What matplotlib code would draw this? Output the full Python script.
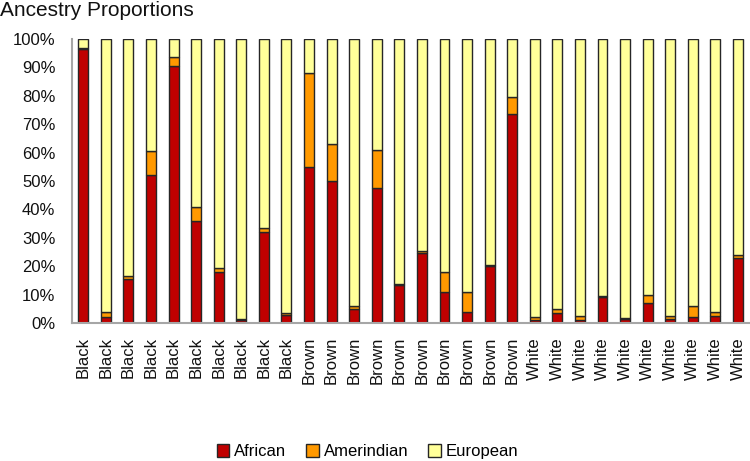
import matplotlib
matplotlib.use('Agg')
import matplotlib.pyplot as plt
import numpy as np

# Categorías y proporciones (en %)
grupos = ['Black'] * 10 + ['Brown'] * 10 + ['White'] * 10
african = [96.5, 2, 15.5, 52, 90.5, 36, 18, 1, 32, 3,
           55, 50, 5, 47.5, 13.5, 24.5, 11, 4, 20, 73.5,
           1, 3.5, 1, 9, 1.5, 7, 1.5, 2, 2.5, 23]
amerindian = [0.5, 2, 1, 8.5, 3, 5, 1.5, 0.3, 1.5, 0.5,
              33, 13, 1, 13.5, 0.3, 1, 7, 7, 0.3, 6,
              1, 1.5, 1.5, 0.5, 0.3, 3, 1, 4, 1.5, 1]
european = [100 - a - b for a, b in zip(african, amerindian)]

colores = ['#C00000', '#FF9900', '#FFFF99']

fig = plt.figure(figsize=(7.5, 4.61), dpi=100)
ax = fig.add_axes([0.096, 0.2993, 0.903, 0.6161])

x = np.arange(len(grupos))
ancho = 0.44
borde = dict(edgecolor='#262626', linewidth=1.0)
ax.bar(x, african, ancho, color=colores[0], label='African', **borde)
ax.bar(x, amerindian, ancho, bottom=african, color=colores[1], label='Amerindian', **borde)
base = [a + b for a, b in zip(african, amerindian)]
ax.bar(x, european, ancho, bottom=base, color=colores[2], label='European', **borde)

ax.set_xlim(-0.5, len(grupos) - 0.5)
ax.set_ylim(0, 100)
ax.set_yticks(range(0, 101, 10))
ax.set_yticklabels([f'{v}%' for v in range(0, 101, 10)], fontsize=12,
                   family='Liberation Sans', color='#111111')
ax.set_xticks(x)
ax.set_xticklabels(grupos, rotation=90, fontsize=12, family='Liberation Sans', color='#111111')
ax.tick_params(axis='y', length=0, pad=12)
ax.tick_params(axis='x', length=0, pad=10)

for lado in ['top', 'right']:
    ax.spines[lado].set_visible(False)
for lado in ['bottom', 'left']:
    ax.spines[lado].set_color('#A6A6A6')
    ax.spines[lado].set_linewidth(1.5)

fig.text(0.0, 0.998, 'Ancestry Proportions', fontsize=15, family='Liberation Sans',
         va='top', ha='left', color='#111111')

fig.legend(loc='center', bbox_to_anchor=(0.49, 0.02), ncol=3, frameon=False,
           prop={'family': 'Liberation Sans', 'size': 12},
           handlelength=0.75, handleheight=0.75, handletextpad=0.3, columnspacing=1.2)

fig.savefig('out.png', dpi=100)
